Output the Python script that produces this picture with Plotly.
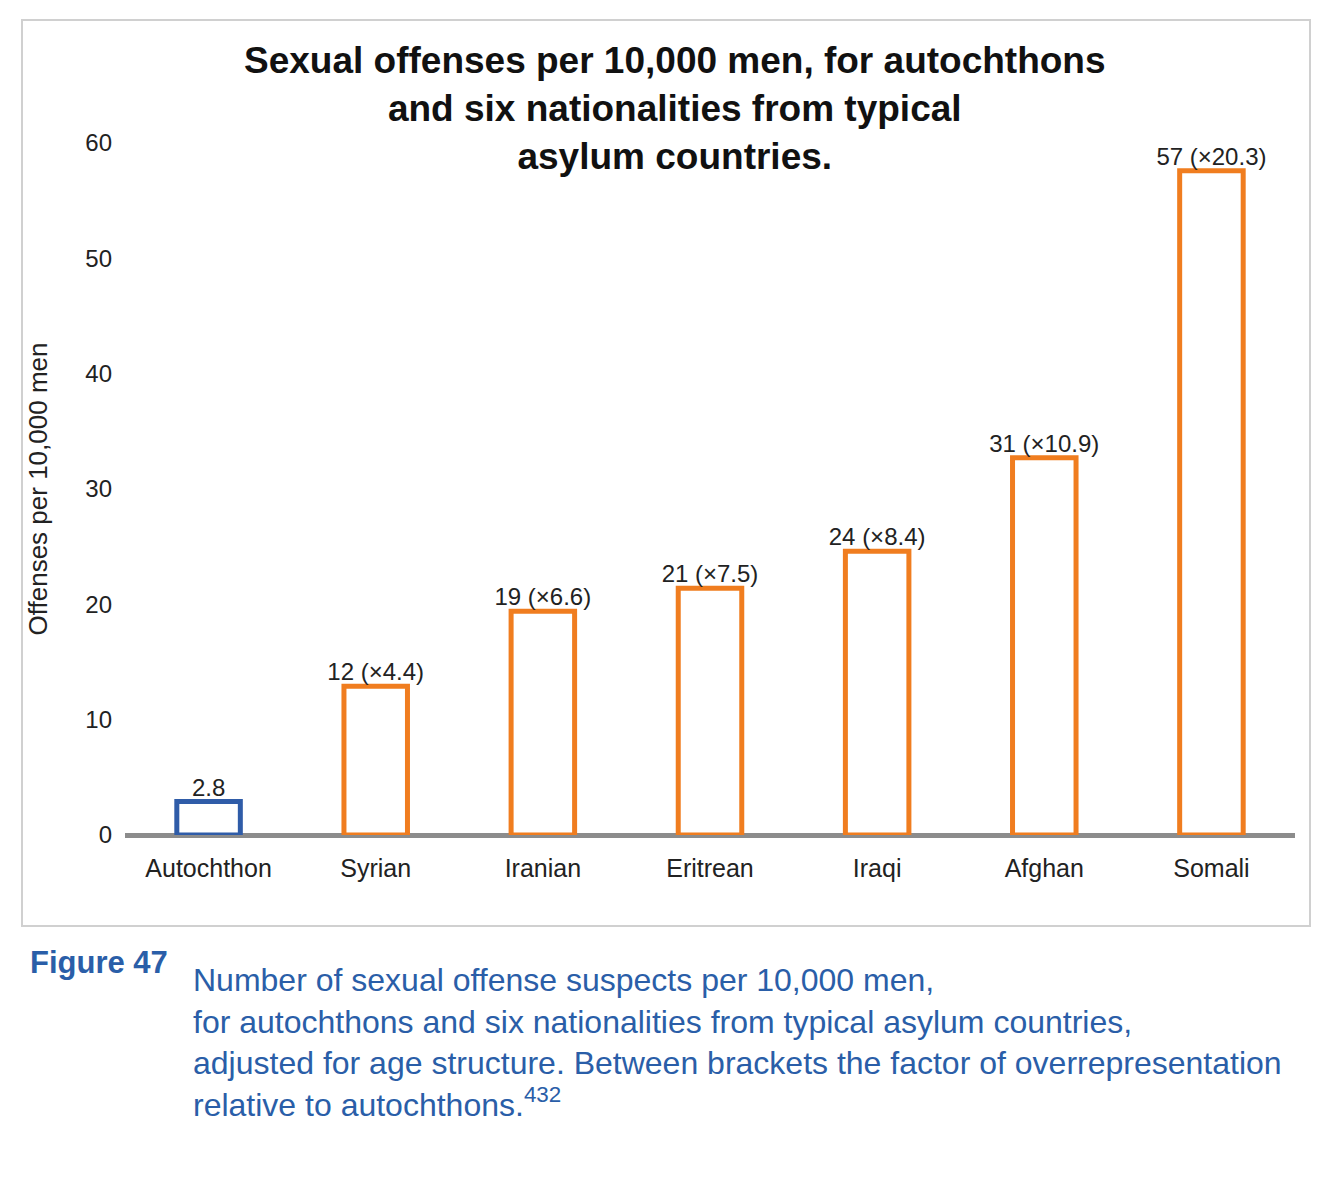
import plotly.graph_objects as go

categories = ["Autochthon", "Syrian", "Iranian", "Eritrean", "Iraqi", "Afghan", "Somali"]
values = [2.9, 12.9, 19.4, 21.4, 24.6, 32.7, 57.6]
labels = ["2.8", "12 (×4.4)", "19 (×6.6)", "21 (×7.5)", "24 (×8.4)", "31 (×10.9)", "57 (×20.3)"]
edge_colors = ["#2f5ca8"] + ["#f07d1f"] * 6

W, H = 1331, 1181
OFF = 8  # page offset of the figure
L, R, T, B = 125 - OFF, 36 + OFF, 143 - OFF, 346 + OFF
pw, ph = W - L - R, H - T - B


def px(x):
    return (x - OFF - L) / pw


def py(y):
    return (H - B - (y - OFF)) / ph


fig = go.Figure()
fig.add_trace(go.Bar(
    x=categories, y=values, width=0.38,
    marker=dict(color="white", line=dict(color=edge_colors, width=5)),
))
fig.add_trace(go.Scatter(
    x=categories, y=values, mode="text", text=labels, textposition="top center",
    cliponaxis=False, textfont=dict(size=24, color="#222", family="Liberation Sans"),
))

fig.update_layout(
    width=W, height=H, margin=dict(l=L, r=R, t=T, b=B),
    paper_bgcolor="white", plot_bgcolor="white", showlegend=False,
    font=dict(family="Liberation Sans", color="#222"),
    xaxis=dict(showgrid=False, showline=False, ticks="", tickfont=dict(size=25),
               ticklabelstandoff=16),
    yaxis=dict(range=[0, 60], dtick=10, showgrid=False, zeroline=True,
               zerolinecolor="#8c8c8c", zerolinewidth=5, tickfont=dict(size=24),
               ticklabelstandoff=12,
               title=dict(text="Offenses per 10,000 men", font=dict(size=26), standoff=30)),
)

fig.add_shape(type="rect", xref="paper", yref="paper",
              x0=px(22), x1=px(1310), y0=py(926), y1=py(20),
              line=dict(color="#d0d0d0", width=2))

fig.add_annotation(xref="paper", yref="paper", x=px(675), y=py(38), yanchor="top",
                   showarrow=False, align="center",
                   text="<b>Sexual offenses per 10,000 men, for autochthons<br>and six nationalities from typical<br>asylum countries.</b>",
                   font=dict(size=37, color="#111", family="Liberation Sans"))

blue = "#2a5ea8"
fig.add_annotation(xref="paper", yref="paper", x=px(28), y=py(982), xanchor="left",
                   showarrow=False, text="<b>Figure 47</b>",
                   font=dict(size=31, color=blue, family="Liberation Sans"))
fig.add_annotation(xref="paper", yref="paper", x=px(191), y=py(960), xanchor="left", yanchor="top",
                   showarrow=False, align="left",
                   text=("Number of sexual offense suspects per 10,000 men,<br>"
                         "for autochthons and six nationalities from typical asylum countries,<br>"
                         "adjusted for age structure. Between brackets the factor of overrepresentation<br>"
                         "relative to autochthons.<sup>432</sup>"),
                   font=dict(size=32, color=blue, family="Liberation Sans"))

fig.write_html("out.html")
